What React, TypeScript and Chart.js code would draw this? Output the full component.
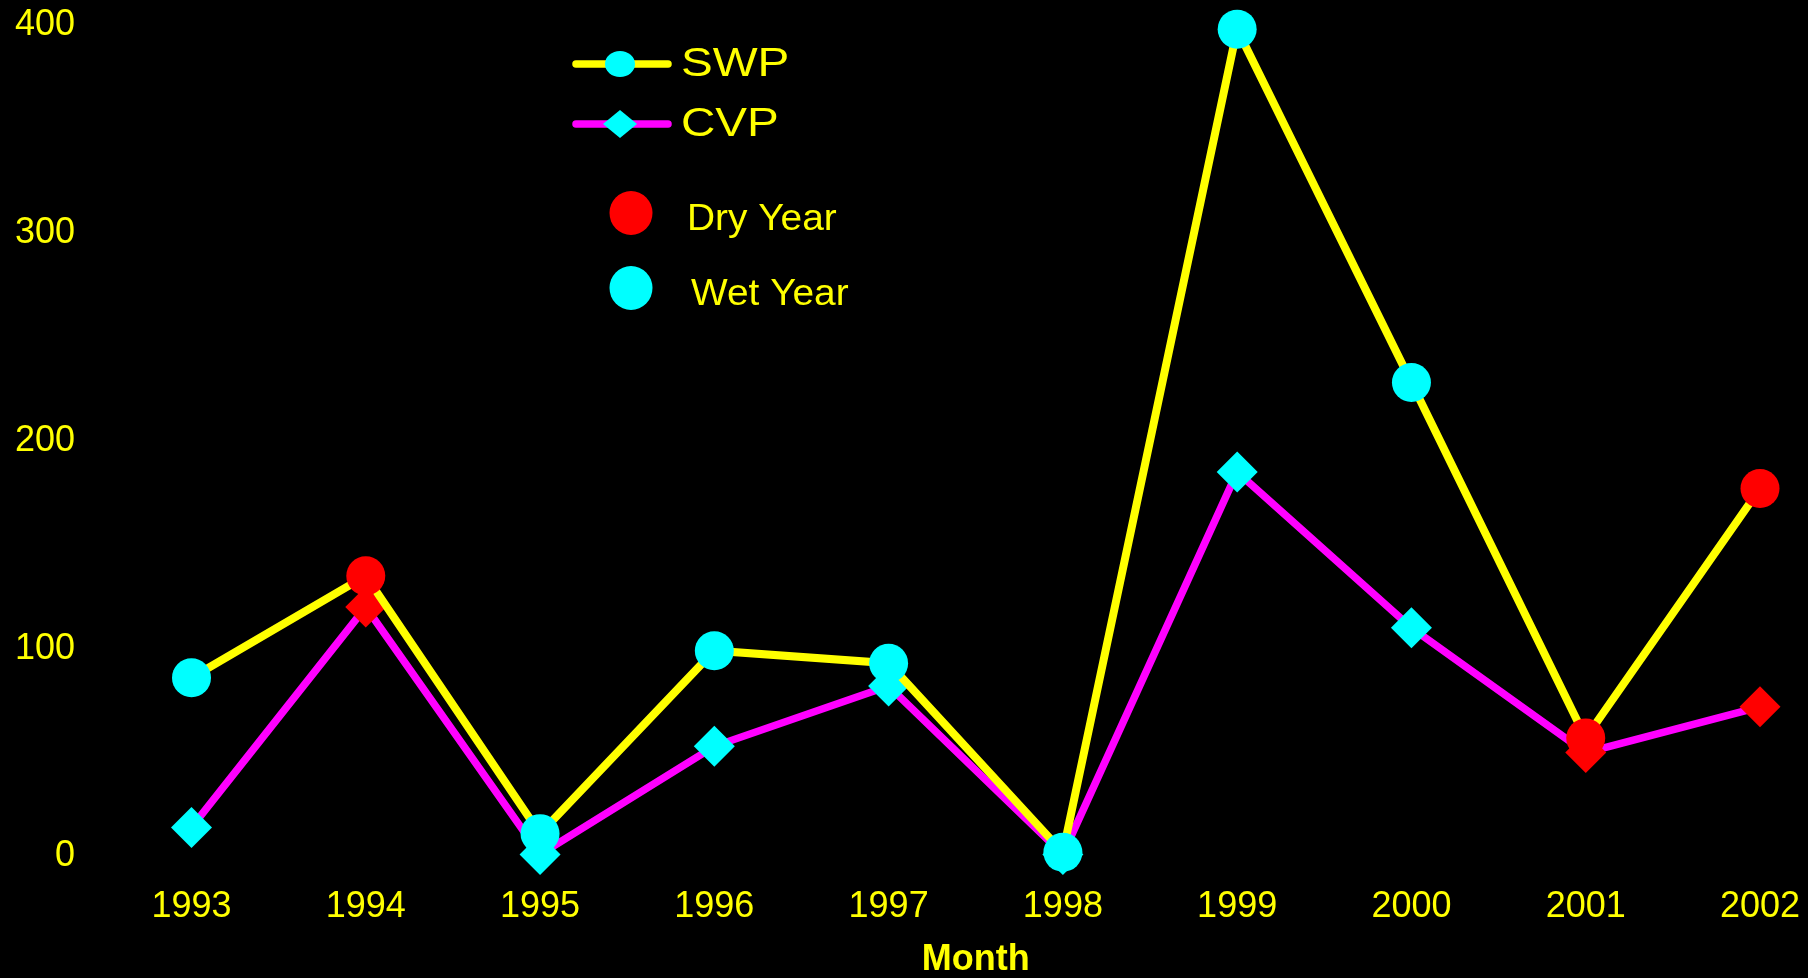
import React, { useEffect, useRef } from "react";
import { Chart, registerables } from "chart.js";

Chart.register(...registerables);

// ---- data ----
const years = ["1993", "1994", "1995", "1996", "1997", "1998", "1999", "2000", "2001", "2002"];
const swpValues = [86, 135, 11, 99, 93, 2, 398, 228, 57, 177];
const cvpValues = [14, 120, 1, 53, 82, 1, 185, 110, 50, 72];
const dryYears = ["1994", "2001", "2002"];
const yTicks = [0, 100, 200, 300, 400];
const xAxisTitle = "Month";
const seriesNames = ["SWP", "CVP"];
const yearTypeNames = ["Dry Year", "Wet Year"];

// ---- styles ----
const YELLOW = "#FFFF00";
const MAGENTA = "#FF00FF";
const CYAN = "#00FFFF";
const RED = "#FF0000";
const FONT = "'Liberation Sans', Arial, Helvetica, sans-serif";

const W = 1808;
const H = 978;

const markerColors = years.map((y) => (dryYears.includes(y) ? RED : CYAN));

function stretchedText(ctx: CanvasRenderingContext2D, text: string, x: number, y: number, font: string, sx: number) {
  ctx.save();
  ctx.translate(x, y);
  ctx.scale(sx, 1);
  ctx.font = font;
  ctx.textAlign = "left";
  ctx.textBaseline = "middle";
  ctx.fillStyle = YELLOW;
  ctx.fillText(text, 0, 0);
  ctx.restore();
}

const legendPlugin = {
  id: "customLegend",
  afterDraw(chart: any) {
    const ctx = chart.ctx as CanvasRenderingContext2D;
    ctx.save();
    const rows = [
      { y: 64, color: YELLOW, marker: "circle", label: seriesNames[0] },
      { y: 124, color: MAGENTA, marker: "diamond", label: seriesNames[1] },
    ];
    rows.forEach((r) => {
      ctx.strokeStyle = r.color;
      ctx.lineWidth = 7.5;
      ctx.lineCap = "round";
      ctx.beginPath();
      ctx.moveTo(576, r.y);
      ctx.lineTo(668, r.y);
      ctx.stroke();
      ctx.fillStyle = CYAN;
      ctx.beginPath();
      if (r.marker === "circle") {
        ctx.ellipse(620, r.y, 15, 13, 0, 0, Math.PI * 2);
      } else {
        ctx.moveTo(620 - 17, r.y);
        ctx.lineTo(620, r.y - 14);
        ctx.lineTo(620 + 17, r.y);
        ctx.lineTo(620, r.y + 14);
        ctx.closePath();
      }
      ctx.fill();
      stretchedText(ctx, r.label, 681, r.y + 1, `41px ${FONT}`, 1.16);
    });
    const types = [
      { cy: 213, ty: 220, tx: 687, color: RED, label: yearTypeNames[0] },
      { cy: 288, ty: 295, tx: 691, color: CYAN, label: yearTypeNames[1] },
    ];
    types.forEach((t) => {
      ctx.fillStyle = t.color;
      ctx.beginPath();
      ctx.ellipse(631, t.cy, 21.5, 22, 0, 0, Math.PI * 2);
      ctx.fill();
      stretchedText(ctx, t.label, t.tx, t.ty, `37px ${FONT}`, 1.05);
    });
    ctx.restore();
  },
};

export default function App() {
  const canvasRef = useRef<HTMLCanvasElement | null>(null);

  useEffect(() => {
    document.body.style.margin = "0";
    document.body.style.background = "#000";
    const canvas = canvasRef.current;
    if (!canvas) return;
    const chart = new Chart(canvas, {
      type: "line",
      data: {
        labels: years,
        datasets: [
          {
            label: seriesNames[0],
            data: swpValues,
            borderColor: YELLOW,
            borderWidth: 8,
            tension: 0,
            pointStyle: "circle",
            pointRadius: 19.5,
            pointBorderWidth: 0,
            pointBackgroundColor: markerColors,
            pointBorderColor: markerColors,
            clip: false as any,
          },
          {
            label: seriesNames[1],
            data: cvpValues,
            borderColor: MAGENTA,
            borderWidth: 7.5,
            tension: 0,
            pointStyle: "rectRot",
            pointRadius: 20.5,
            pointBorderWidth: 0,
            pointBackgroundColor: markerColors,
            pointBorderColor: markerColors,
            clip: false as any,
          },
        ],
      },
      options: {
        animation: false,
        responsive: false,
        devicePixelRatio: 1,
        layout: { padding: { top: 25, right: 48, bottom: 0, left: 0 } },
        plugins: {
          legend: { display: false },
          tooltip: { enabled: false },
        },
        scales: {
          x: {
            type: "category",
            offset: false,
            grid: { display: false, drawTicks: false },
            border: { display: false },
            ticks: {
              color: YELLOW,
              font: { family: FONT, size: 36 },
              padding: 28.5,
              maxRotation: 0,
              autoSkip: false,
            },
            title: {
              display: true,
              text: xAxisTitle,
              color: YELLOW,
              font: { family: FONT, size: 36, weight: "bold", lineHeight: 1 },
              padding: { top: 0, bottom: 0 },
            },
            afterFit: (s: any) => {
              s.height = 121.5;
              s.paddingLeft = 40;
              s.paddingRight = 40;
            },
          },
          y: {
            min: 0,
            max: 400,
            grid: { display: false, drawTicks: false },
            border: { display: false },
            afterBuildTicks: (s: any) => {
              s.ticks = yTicks.map((v) => ({ value: v }));
            },
            ticks: {
              color: YELLOW,
              font: { family: FONT, size: 36 },
              padding: 116.5,
            },
            afterFit: (s: any) => {
              s.width = 191.5;
              s.paddingTop = 20;
              s.paddingBottom = 20;
            },
          },
        },
      },
      plugins: [legendPlugin],
    });
    return () => chart.destroy();
  }, []);

  return (
    <div style={{ position: "fixed", left: 0, top: 0, width: W, height: H, background: "#000" }}>
      <canvas ref={canvasRef} width={W} height={H} style={{ display: "block", width: W, height: H }} />
    </div>
  );
}
